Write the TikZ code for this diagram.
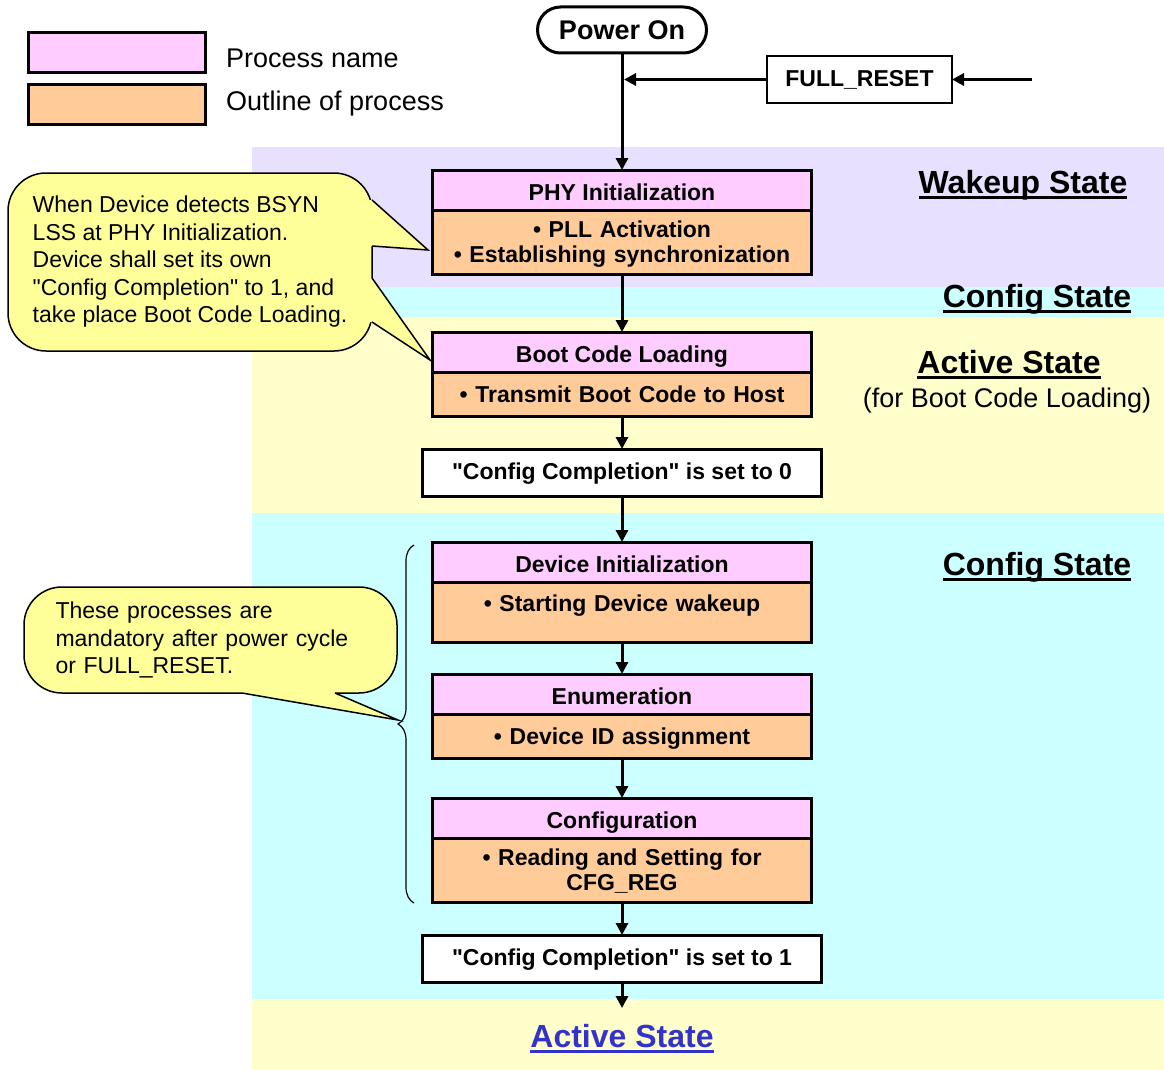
\documentclass[tikz,border=0pt]{standalone}
\usepackage{fontspec}
\setmainfont{Liberation Sans}
\newfontfamily\plainsans{Liberation Sans}
\usepackage{tikz}
\usetikzlibrary{arrows.meta, positioning, decorations.pathreplacing}

\definecolor{namepink}{HTML}{FFCCFF}
\definecolor{outlineorange}{HTML}{FFCC99}
\definecolor{wakeupband}{HTML}{E8E0FF}
\definecolor{configband}{HTML}{CCFFFF}
\definecolor{activeband}{HTML}{FFFFCC}
\definecolor{noteyellow}{HTML}{FFFF99}
\definecolor{activeblue}{HTML}{3333CC}

\newcommand{\stateline}[1]{\setbox0\hbox{#1}\rlap{\rule[-5.5pt]{\wd0}{2.5pt}}\box0}

\tikzstyle{arrow} = [line width=3pt, -{Triangle[length=12pt, width=12pt]}]
\tikzset{
    procname/.style={
        rectangle, draw=black, line width=3pt, fill=namepink, minimum width=379pt, minimum height=40pt,
        text height=20pt, text depth=0pt, inner sep=4pt, outer sep=0pt, text centered,
        font=\fontsize{23}{25}\selectfont\bfseries
    },
    procbody/.style={
        rectangle, draw=black, line width=3pt, fill=outlineorange, minimum width=379pt, text width=365pt,
        text depth=0pt, inner sep=4pt, outer sep=0pt, align=center, font=\fontsize{23}{25}\selectfont\bfseries
    },
    flagbox/.style={
        rectangle, draw=black, line width=3pt, fill=white, minimum width=399pt, minimum height=47pt,
        text height=18pt, text depth=4pt, outer sep=0pt, text centered,
        font=\fontsize{23}{25}\plainsans\bfseries
    },
    startbox/.style={
        rectangle, rounded corners=23pt, draw=black, line width=3pt, fill=white, minimum width=169pt,
        minimum height=46pt, outer sep=0pt, font=\fontsize{27}{30}\selectfont\bfseries
    },
    resetbox/.style={
        rectangle, draw=black, line width=2.5pt, fill=white, minimum width=185pt, minimum height=47pt,
        outer sep=0pt, font=\fontsize{23}{25}\selectfont\bfseries
    },
    callout/.style={
        rectangle, rounded corners=38pt, draw=black, line width=1.5pt, fill=noteyellow, align=left,
        font=\fontsize{23}{27.5}\plainsans
    },
    legendtext/.style={inner sep=0pt, font=\fontsize{27}{30}\selectfont},
    statelabel/.style={inner sep=0pt, font=\fontsize{32}{36}\selectfont\bfseries},
    substate/.style={inner sep=0pt, font=\fontsize{27}{30}\selectfont}
}

\begin{document}
\begin{tikzpicture}[x=1pt, y=-1pt]

            \useasboundingbox (0,0) rectangle (1164,1070);

            % State bands
            \fill[wakeupband] (252,147) rectangle (1164,287);
            \fill[configband] (252,287) rectangle (1164,317);
            \fill[activeband] (252,317) rectangle (1164,513);
            \fill[configband] (252,513) rectangle (1164,999);
            \fill[activeband] (252,999) rectangle (1164,1070);

            % Legend
            \node[procname, minimum width=177pt] (legname) at (116.5,53) {};
            \node[procbody, minimum width=177pt, text width=160pt, minimum height=40pt] (legbody) at (116.5,105) {};
            \node[legendtext, anchor=base west] (legnametext) at (226,68) {Process name};
            \node[legendtext, anchor=base west] (legbodytext) at (226,111) {Outline of process};

            % Start and reset
            \node[startbox] (power) at (622,30) {Power On};
            \node[resetbox] (reset) at (859.5,79.5) {FULL\_RESET};
            \coordinate (resetjoin) at (624,79.5);
            \coordinate (resetin) at (1032,79.5);

            % Process flow
            \node[procname] (phyname) at (622,190) {PHY Initialization};
            \node[procbody, minimum height=64pt, text depth=25pt, below=0pt of phyname] (phybody) {• PLL Activation\\• Establishing synchronization};
            \node[procname, below=58pt of phybody] (bootname) {Boot Code Loading};
            \node[procbody, minimum height=44pt, below=0pt of bootname] (bootbody) {• Transmit Boot Code to Host};
            \node[flagbox, below=33pt of bootbody] (cfgzero) {"Config Completion" is set to 0};
            \node[procname, below=46pt of cfgzero] (devname) {Device Initialization};
            \node[procbody, minimum height=60pt, text depth=18pt, below=0pt of devname] (devbody) {• Starting Device wakeup};
            \node[procname, below=32pt of devbody] (enumname) {Enumeration};
            \node[procbody, minimum height=44pt, below=0pt of enumname] (enumbody) {• Device ID assignment};
            \node[procname, below=40pt of enumbody] (confname) {Configuration};
            \node[procbody, minimum height=64pt, text depth=25pt, below=0pt of confname] (confbody) {• Reading and Setting for\\CFG\_REG};
            \node[flagbox, below=33pt of confbody] (cfgone) {"Config Completion" is set to 1};
            \coordinate (activeend) at (622,1008);

            % Relationships
            \draw[arrow] (power) -- (phyname);
            \draw[arrow] (reset) -- (resetjoin);
            \draw[arrow] (resetin) -- (reset);
            \draw[arrow] (phybody) -- (bootname);
            \draw[arrow] (bootbody) -- (cfgzero);
            \draw[arrow] (cfgzero) -- (devname);
            \draw[arrow] (devbody) -- (enumname);
            \draw[arrow] (enumbody) -- (confname);
            \draw[arrow] (confbody) -- (cfgone);
            \draw[arrow] (cfgone) -- (activeend);

            % State labels
            \node[statelabel, anchor=base] (wakeuplbl) at (1023,193) {\stateline{Wakeup State}};
            \node[statelabel, anchor=base] (configlbl) at (1037,307) {\stateline{Config State}};
            \node[statelabel, anchor=base] (activelbl) at (1009,373) {\stateline{Active State}};
            \node[substate, anchor=base] (activesub) at (1007,407) {(for Boot Code Loading)};
            \node[statelabel, anchor=base] (configlbltwo) at (1037,575) {\stateline{Config State}};
            \node[statelabel, text=activeblue, anchor=base] (activelbltwo) at (622,1047) {\stateline{Active State}};

            % Callouts
            \node[callout, minimum width=364pt, minimum height=178pt] (bsynnote) at (190,262) {When Device detects BSYN\\LSS at PHY Initialization.\\Device shall set its own\\"Config Completion" to 1, and\\take place Boot Code Loading.};
            \fill[noteyellow] (360,200) -- (372,200) -- (428,250) -- (372,246) -- (360,246) -- cycle;
            \draw[line width=1.5pt] (372,200) -- (428,250) -- (372,246);
            \fill[noteyellow] (360,278) -- (372,278) -- (430,360) -- (372,322) -- (360,322) -- cycle;
            \draw[line width=1.5pt] (372,278) -- (430,360) -- (372,322);

            \node[callout, text width=310pt, minimum width=373pt, minimum height=106pt] (mandnote) at (210.5,640) {These processes are\\mandatory after power cycle\\or FULL\_RESET.};
            \fill[noteyellow] (242,682) -- (242,693) -- (398,720) -- (335,693) -- (335,682) -- cycle;
            \draw[line width=1.5pt] (242,693) -- (398,720) -- (335,693);

            % Brace
            \draw[line width=1.2pt, decorate, decoration={brace, amplitude=16pt}] (414,903) -- (414,545);

\end{tikzpicture}
\end{document}
